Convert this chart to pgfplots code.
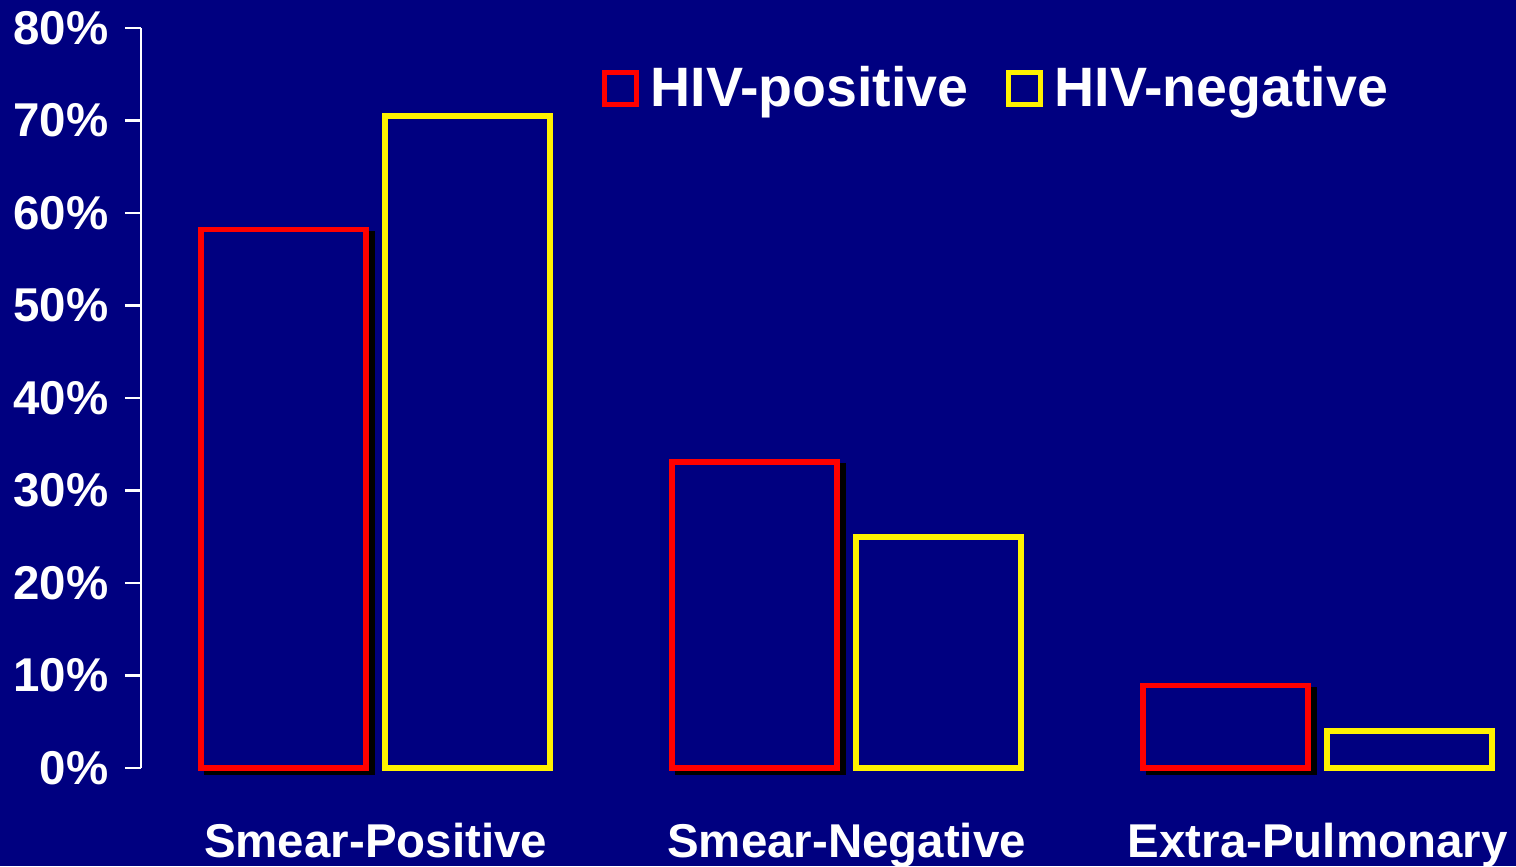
\documentclass[border=0pt]{standalone}
\usepackage{pgfplots}
\pgfplotsset{compat=1.18}
\usepackage{fontspec}
\setmainfont{Liberation Sans}
\definecolor{navybg}{RGB}{0,0,128}
\begin{document}
\begin{tikzpicture}
\path[use as bounding box, fill=navybg] (0,0) rectangle (151.6mm,86.6mm);
\begin{axis}[
  at={(14.1mm,9.8mm)}, anchor=south west,
  scale only axis, width=137.5mm, height=74mm,
  xmin=-0.498, xmax=2.421, ymin=0, ymax=80,
  clip=false,
  axis lines=left,
  axis line style={-, white, line width=0.6pt},
  x axis line style={draw=none},
  xtick={0,1,2},
  xticklabels={Smear-Positive,Smear-Negative,Extra-Pulmonary},
  major x tick style={draw=none},
  ytick={0,10,...,80},
  yticklabel={\pgfmathprintnumber{\tick}\%},
  tick align=outside,
  major tick length=1.6mm,
  y tick style={white, line width=0.6pt},
  /pgf/number format/assume math mode=true,
  every tick label/.append style={font=\fontsize{13.5}{15}\selectfont\bfseries, text=white},
  xticklabel style={anchor=north, inner sep=0pt, yshift=-3.8mm},
  yticklabel style={anchor=east, inner sep=0pt, xshift=-1.6mm},
  bar width=16.5mm,
  legend columns=2,
  legend style={draw=none, fill=none, text=white, inner sep=0pt,
    font=\fontsize{15.8}{17}\selectfont\bfseries,
    at={(0.3345,0.9176)}, anchor=west,
    /tikz/every odd column/.append style={column sep=0.5mm},
    /tikz/every even column/.append style={column sep=3.0mm}},
  legend image code/.code={\draw[#1, line width=0.5mm] (0mm,-1.6mm) rectangle (3.2mm,1.6mm);},
]
% shadows for red bars
\addplot[ybar, forget plot, draw=black, fill=black, bar shift=-8.6mm, yshift=-0.4mm, line width=0.55mm]
  coordinates {(0,58.2) (1,33.1) (2,8.9)};
\addplot[ybar, draw=red, fill=navybg, line width=0.55mm, bar shift=-9.2mm]
  coordinates {(0,58.2) (1,33.1) (2,8.9)};
\addplot[ybar, draw=yellow, fill=navybg, line width=0.55mm, bar shift=9.2mm]
  coordinates {(0,70.5) (1,25.0) (2,4.0)};
\legend{HIV-positive, HIV-negative}
\end{axis}
\end{tikzpicture}
\end{document}
